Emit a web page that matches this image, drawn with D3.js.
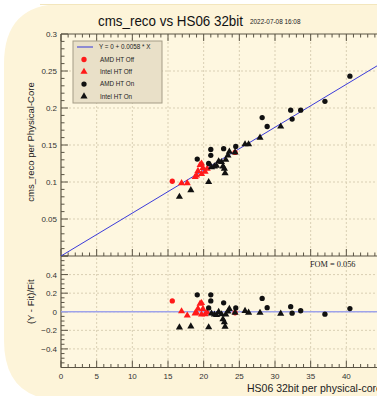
<!DOCTYPE html>
<html>
<head>
<meta charset="utf-8">
<script src="https://cdn.jsdelivr.net/npm/d3@7"></script>
<style>
  html, body { margin: 0; padding: 0; background: #ffffff; }
  svg { display: block; font-family: "Liberation Sans", Arial, sans-serif; }
</style>
</head>
<body>
<script>
// fit from the legend: Y = 0 + 0.0058 * X
const fitSlope = 0.0058;
const fom = "0.056";

// [HS06 32bit per physical core, cms_reco per physical core]
const amdOff = [[15.6, 0.101], [24.4, 0.140]];
const intelOff = [
  [16.9, 0.0985], [17.7, 0.0985], [18.8, 0.107], [19.0, 0.109], [19.2, 0.115],
  [19.5, 0.123], [19.7, 0.125], [19.9, 0.119], [19.7, 0.111], [20.2, 0.114], [20.5, 0.118]
];
const amdOn = [
  [19.1, 0.131], [20.7, 0.125], [21.0, 0.144], [21.0, 0.136], [22.8, 0.145],
  [24.5, 0.148], [28.2, 0.187], [28.9, 0.175], [32.2, 0.197], [32.4, 0.185],
  [33.6, 0.197], [37.0, 0.209], [40.5, 0.243]
];
const intelOn = [
  [16.6, 0.080], [18.2, 0.089], [20.7, 0.100], [21.1, 0.120], [21.5, 0.121],
  [21.8, 0.122], [22.1, 0.128], [22.5, 0.127], [22.7, 0.121], [22.9, 0.118],
  [23.0, 0.112], [23.1, 0.130], [23.4, 0.136], [23.6, 0.141], [24.4, 0.140],
  [25.8, 0.151], [26.3, 0.151], [27.9, 0.160], [30.8, 0.175]
];

const series = [
  { name: "AMD HT Off", data: amdOff, color: "#ff1a1a", shape: "circle" },
  { name: "Intel HT Off", data: intelOff, color: "#ff1a1a", shape: "triangle" },
  { name: "AMD HT On", data: amdOn, color: "#111111", shape: "circle" },
  { name: "Intel HT On", data: intelOn, color: "#111111", shape: "triangle" }
];

const xMajor = [0, 5, 10, 15, 20, 25, 30, 35, 40];
const yTopMajor = [0.05, 0.1, 0.15, 0.2, 0.25, 0.3];
const yBotMajor = [-0.4, -0.2, 0, 0.2, 0.4];

const W = 377, H = 396;
const plotL = 61, plotR = 382;
const topT = 34, mid = 256, botB = 367.5;

const svg = d3.select("body").append("svg").attr("width", W).attr("height", H);

// cream page with rounded left corners
svg.append("path")
  .attr("d", "M 62 4 L 420 4 L 420 400 L 62 400 Q 4 400 4 340 L 4 64 Q 4 4 62 4 Z")
  .attr("fill", "#fdf4d9");
svg.append("line").attr("x1", 40).attr("x2", W).attr("y1", 4.5).attr("y2", 4.5)
  .attr("stroke", "#f3e6bd").attr("stroke-width", 1);

const x = d3.scaleLinear().domain([0, 45]).range([plotL, plotR]);
const yTop = d3.scaleLinear().domain([0, 0.3]).range([mid, topT]);
const yBot = d3.scaleLinear().domain([-0.6, 0.6]).range([botB, mid]);

// plot backgrounds
svg.append("rect").attr("x", plotL).attr("y", topT).attr("width", plotR - plotL).attr("height", botB - topT)
  .attr("fill", "#fef7e0");

const gridColor = "#d9cfb4";
const axisColor = "#5b5444";

// grid lines
const grid = svg.append("g").attr("stroke", gridColor).attr("stroke-width", 1).attr("stroke-dasharray", "2,2");
grid.selectAll(".vx").data(xMajor.filter(d => d > 0)).join("line")
  .attr("x1", d => x(d)).attr("x2", d => x(d)).attr("y1", topT).attr("y2", botB);
grid.selectAll(".ht").data(yTopMajor.filter(d => d < 0.3)).join("line").attr("class", "ht")
  .attr("x1", plotL).attr("x2", plotR).attr("y1", d => yTop(d)).attr("y2", d => yTop(d));
grid.selectAll(".hb").data(yBotMajor).join("line").attr("class", "hb")
  .attr("x1", plotL).attr("x2", plotR).attr("y1", d => yBot(d)).attr("y2", d => yBot(d));

// ticks
const ticks = svg.append("g").attr("stroke", axisColor).attr("stroke-width", 1);
const xMinor = d3.range(0, 46, 1);
function xTicks(yPos, dir) {
  ticks.append("g").selectAll("line").data(xMinor).join("line")
    .attr("x1", d => x(d)).attr("x2", d => x(d))
    .attr("y1", yPos).attr("y2", d => yPos + dir * (d % 5 === 0 ? 7 : 3.5));
}
xTicks(topT, 1);
xTicks(mid, -1);
xTicks(botB, -1);

const yTopMinor = d3.range(0, 0.3001, 0.01);
ticks.append("g").selectAll("line").data(yTopMinor).join("line")
  .attr("x1", plotL).attr("x2", (d, i) => plotL + (i % 5 === 0 ? 7 : 3.5))
  .attr("y1", d => yTop(d)).attr("y2", d => yTop(d));
const yBotMinor = d3.range(-0.6, 0.6001, 0.05);
ticks.append("g").selectAll("line").data(yBotMinor).join("line")
  .attr("x1", plotL).attr("x2", (d, i) => plotL + (i % 4 === 0 ? 7 : 3.5))
  .attr("y1", d => yBot(d)).attr("y2", d => yBot(d));

// frame
const frame = svg.append("g").attr("stroke", axisColor).attr("stroke-width", 1.2).attr("fill", "none");
frame.append("line").attr("x1", plotL).attr("x2", plotL).attr("y1", topT).attr("y2", botB);
frame.append("line").attr("x1", plotL).attr("x2", plotR).attr("y1", topT).attr("y2", topT);
frame.append("line").attr("x1", plotL).attr("x2", plotR).attr("y1", mid).attr("y2", mid);
frame.append("line").attr("x1", plotL).attr("x2", plotR).attr("y1", botB).attr("y2", botB);

// tick labels
const lbl = svg.append("g").attr("font-size", 8).attr("fill", "#333");
lbl.selectAll(".yt").data(yTopMajor).join("text")
  .attr("x", plotL - 4).attr("y", d => yTop(d) + 3).attr("text-anchor", "end").text(d => d);
lbl.selectAll(".yb").data(yBotMajor).join("text").attr("class", "yb")
  .attr("x", plotL - 4).attr("y", d => yBot(d) + 3).attr("text-anchor", "end")
  .text(d => d < 0 ? "\u2212" + Math.abs(d) : d);
lbl.selectAll(".xb").data(xMajor).join("text").attr("class", "xb")
  .attr("x", d => x(d)).attr("y", botB + 11).attr("text-anchor", "middle").text(d => d);

// clip to plot region
const clipT = svg.append("clipPath").attr("id", "clipT");
clipT.append("rect").attr("x", plotL).attr("y", topT).attr("width", plotR - plotL).attr("height", mid - topT);
const clipB = svg.append("clipPath").attr("id", "clipB");
clipB.append("rect").attr("x", plotL).attr("y", mid).attr("width", plotR - plotL).attr("height", botB - mid);

// fit line
svg.append("line").attr("clip-path", "url(#clipT)")
  .attr("x1", x(0)).attr("y1", yTop(0)).attr("x2", x(45)).attr("y2", yTop(45 * fitSlope))
  .attr("stroke", "#3b3bd9").attr("stroke-width", 1);
svg.append("line").attr("clip-path", "url(#clipB)")
  .attr("x1", plotL).attr("x2", plotR).attr("y1", yBot(0)).attr("y2", yBot(0))
  .attr("stroke", "#9ea3ea").attr("stroke-width", 1.5);

const triSym = d3.symbol().type(d3.symbolTriangle).size(22);
const cirSym = d3.symbol().type(d3.symbolCircle).size(22);

function drawMarks(g, s, yScale, yVal) {
  g.selectAll("path.m").data(s.data).join("path").attr("class", "m")
    .attr("d", s.shape === "circle" ? cirSym() : triSym())
    .attr("transform", d => `translate(${x(d[0])},${yScale(yVal(d))})`)
    .attr("fill", s.color);
}

const resid = d => (d[1] - fitSlope * d[0]) / (fitSlope * d[0]);
series.forEach(s => {
  drawMarks(svg.append("g").attr("clip-path", "url(#clipT)"), s, yTop, d => d[1]);
  drawMarks(svg.append("g").attr("clip-path", "url(#clipB)"), s, yBot, resid);
});

// legend
const leg = svg.append("g").attr("transform", "translate(73,41)");
leg.append("rect").attr("width", 89).attr("height", 62)
  .attr("fill", "#e9e0c8").attr("stroke", "#a49c86").attr("stroke-width", 1);
leg.append("line").attr("x1", 4).attr("x2", 20).attr("y1", 6).attr("y2", 6)
  .attr("stroke", "#5050d8").attr("stroke-width", 1.2);
leg.append("text").attr("x", 26).attr("y", 8.2).attr("font-size", 6.3).attr("fill", "#222")
  .text("Y = 0 + 0.0058 * X");
series.forEach((s, i) => {
  const yy = 18.5 + i * 12.3;
  leg.append("path").attr("d", s.shape === "circle" ? cirSym() : triSym())
    .attr("transform", `translate(11,${yy})`).attr("fill", s.color);
  leg.append("text").attr("x", 27).attr("y", yy + 2.3).attr("font-size", 6.3).attr("fill", "#222").text(s.name);
});

// titles
svg.append("text").attr("x", 98).attr("y", 26).attr("font-size", 15)
  .attr("textLength", 145).attr("lengthAdjust", "spacingAndGlyphs").attr("fill", "#111")
  .text("cms_reco vs HS06 32bit");
svg.append("text").attr("x", 250).attr("y", 24).attr("font-size", 6.4).attr("fill", "#222")
  .text("2022-07-08 16:08");

svg.append("text").attr("transform", `translate(34,${(topT + mid) / 2 - 3}) rotate(-90)`)
  .attr("text-anchor", "middle").attr("font-size", 9.5).attr("fill", "#222")
  .text("cms_reco per Physical-Core");
svg.append("text").attr("transform", `translate(34,${(mid + botB) / 2 - 10}) rotate(-90)`)
  .attr("text-anchor", "middle").attr("font-size", 9.5).attr("fill", "#222")
  .text("(Y - Fit)/Fit");

svg.append("text").attr("x", 247).attr("y", 392).attr("font-size", 10.5).attr("fill", "#222")
  .text("HS06 32bit per physical-core");

svg.append("text").attr("x", 310).attr("y", 267).attr("font-size", 8.3)
  .attr("font-family", "'Liberation Serif', 'Times New Roman', serif").attr("fill", "#222")
  .text("FOM = " + fom);
</script>
</body>
</html>
